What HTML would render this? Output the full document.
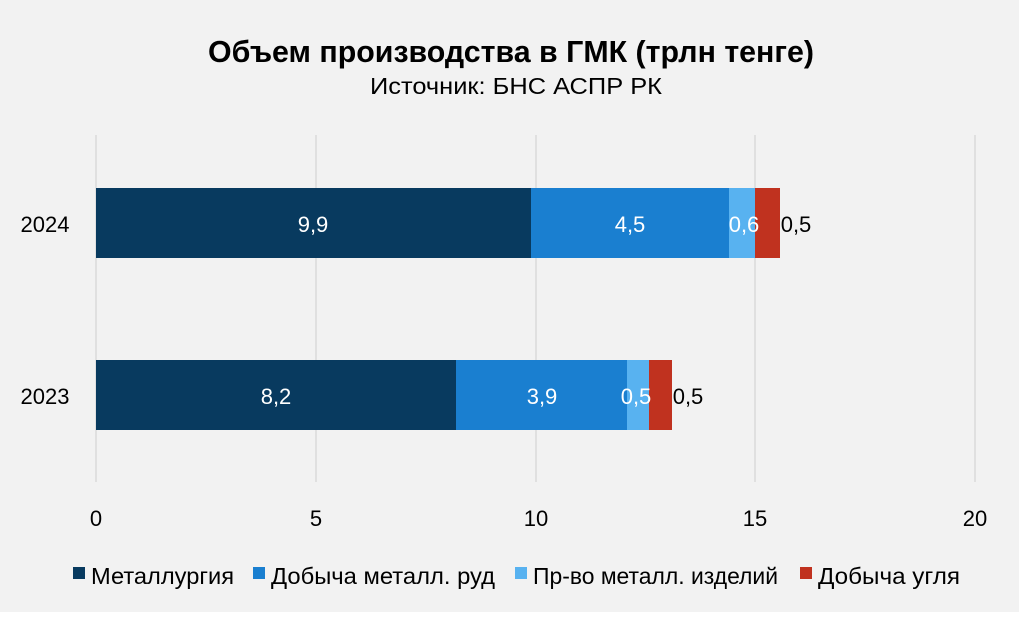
<!DOCTYPE html>
<html><head><meta charset="utf-8"><style>
html,body{margin:0;padding:0;background:#fff}
svg{display:block}
text{font-family:"Liberation Sans Narrow","Liberation Sans",sans-serif;fill:#000}
</style></head><body>
<svg width="1024" height="617" viewBox="0 0 1024 617" xmlns="http://www.w3.org/2000/svg">
<rect x="0" y="0" width="1019" height="612" fill="#f2f2f2"/>
<text x="511" y="62" font-size="31" font-weight="bold" text-anchor="middle" textLength="606" lengthAdjust="spacingAndGlyphs">Объем производства в ГМК (трлн тенге)</text>
<text x="516" y="94" font-size="23" text-anchor="middle" textLength="292" lengthAdjust="spacingAndGlyphs">Источник: БНС АСПР РК</text>
<g stroke="#d9d9d9" stroke-width="1.5">
<line x1="96" y1="135" x2="96" y2="482"/><line x1="316" y1="135" x2="316" y2="482"/><line x1="536" y1="135" x2="536" y2="482"/><line x1="755" y1="135" x2="755" y2="482"/><line x1="975" y1="135" x2="975" y2="482"/>
</g>
<rect x="96" y="188" width="435" height="70" fill="#083a5f"/>
<rect x="531" y="188" width="198" height="70" fill="#1a7fd0"/>
<rect x="729" y="188" width="26" height="70" fill="#58b2f0"/>
<rect x="755" y="188" width="25" height="70" fill="#c0321f"/>
<rect x="96" y="360" width="360" height="70" fill="#083a5f"/>
<rect x="456" y="360" width="171" height="70" fill="#1a7fd0"/>
<rect x="627" y="360" width="22" height="70" fill="#58b2f0"/>
<rect x="649" y="360" width="23" height="70" fill="#c0321f"/>
<g font-size="22" text-anchor="middle">
<text x="313" y="232" style="fill:#fff">9,9</text>
<text x="630" y="232" style="fill:#fff">4,5</text>
<text x="744" y="232" style="fill:#fff">0,6</text>
<text x="796" y="232">0,5</text>
<text x="276" y="404" style="fill:#fff">8,2</text>
<text x="542" y="404" style="fill:#fff">3,9</text>
<text x="636" y="404" style="fill:#fff">0,5</text>
<text x="688" y="404">0,5</text>
<text x="45" y="232">2024</text>
<text x="45" y="404">2023</text>
<text x="96" y="526">0</text><text x="316" y="526">5</text><text x="536" y="526">10</text><text x="755" y="526">15</text><text x="975" y="526">20</text>
</g>
<rect x="73" y="567" width="12" height="12" fill="#083a5f"/>
<rect x="253" y="567" width="12" height="12" fill="#1a7fd0"/>
<rect x="515" y="567" width="12" height="12" fill="#58b2f0"/>
<rect x="800" y="567" width="12" height="12" fill="#c0321f"/>
<g font-size="23">
<text x="91" y="584" textLength="143" lengthAdjust="spacingAndGlyphs">Металлургия</text>
<text x="271" y="584" textLength="224" lengthAdjust="spacingAndGlyphs">Добыча металл. руд</text>
<text x="533" y="584" textLength="245" lengthAdjust="spacingAndGlyphs">Пр-во металл. изделий</text>
<text x="818" y="584" textLength="142" lengthAdjust="spacingAndGlyphs">Добыча угля</text>
</g>
</svg>
</body></html>
